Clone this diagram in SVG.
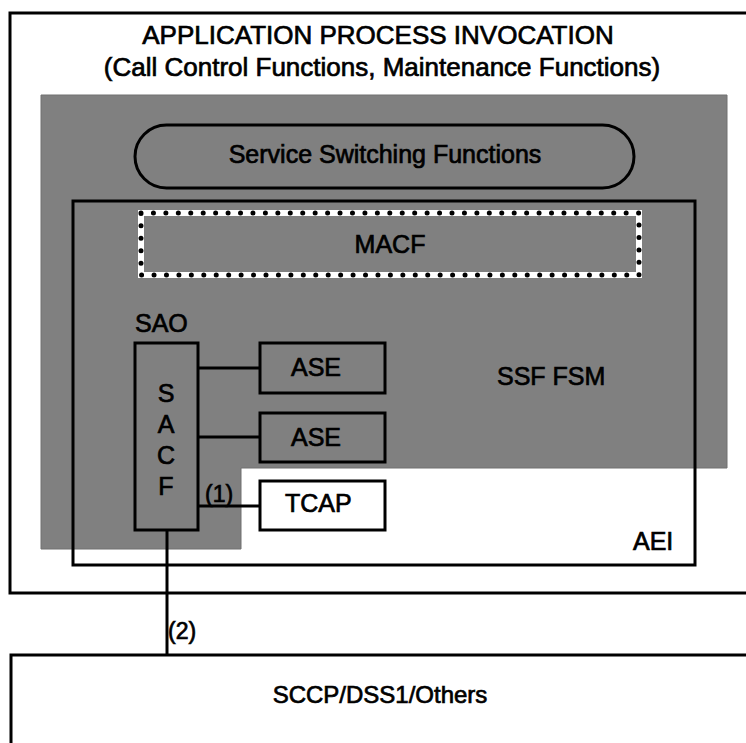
<svg xmlns="http://www.w3.org/2000/svg" width="746" height="743" viewBox="0 0 746 743">
  <style>
    .t { font-family: "Liberation Sans", Arial, sans-serif; font-size: 25px; fill: #000; stroke: #000; stroke-width: 0.7; }
    .title { font-size: 26px; }
    .mid { text-anchor: middle; }
    .box { fill: none; stroke: #000; stroke-width: 3; }
    .wbox { fill: #fff; stroke: #000; stroke-width: 3; }
    .line { fill: none; stroke: #000; stroke-width: 3; }
  </style>

  <rect width="746" height="743" fill="#fff"/>

  <!-- application process invocation frame -->
  <g id="api">
    <rect class="box" x="10" y="13" width="800" height="580"/>
    <text class="t title mid" x="378" y="44">APPLICATION PROCESS INVOCATION</text>
    <text class="t title mid" x="382" y="76">(Call Control Functions, Maintenance Functions)</text>
  </g>

  <!-- SSF FSM shaded area -->
  <g id="ssf-fsm">
    <path d="M41 95 H727 V468 H241 V549 H41 Z" fill="#808080" stroke="#707070" stroke-width="1"/>
    <text class="t" x="497" y="385">SSF FSM</text>
  </g>

  <g id="ssf">
    <rect class="box" x="135" y="125" width="499" height="63" rx="31.5" ry="31.5"/>
    <text class="t mid" x="385" y="163">Service Switching Functions</text>
  </g>

  <g id="aei">
    <rect class="box" x="73" y="201" width="622" height="364"/>
    <text class="t" x="633" y="550">AEI</text>
  </g>

  <g id="macf">
    <rect x="141" y="213" width="498" height="62" fill="none" stroke="#fff" stroke-width="6"/>
    <rect x="141" y="213" width="498" height="62" fill="none" stroke="#000" stroke-width="5" stroke-linecap="round" stroke-dasharray="0 12.44"/>
    <text class="t mid" x="390" y="253">MACF</text>
  </g>

  <g id="sacf">
    <text class="t" x="135" y="332">SAO</text>
    <rect class="box" x="135" y="343" width="63" height="187"/>
    <text class="t mid" x="166" y="402">S</text>
    <text class="t mid" x="166" y="433">A</text>
    <text class="t mid" x="166" y="464">C</text>
    <text class="t mid" x="166" y="495">F</text>
  </g>

  <g id="ase1">
    <rect class="box" x="260" y="343" width="125" height="50"/>
    <text class="t" x="291" y="376">ASE</text>
  </g>

  <g id="ase2">
    <rect class="box" x="260" y="413" width="125" height="49"/>
    <text class="t" x="291" y="446">ASE</text>
  </g>

  <g id="tcap">
    <rect class="wbox" x="260" y="481" width="125" height="49"/>
    <text class="t" x="285" y="512">TCAP</text>
  </g>

  <g id="sccp">
    <path class="line" d="M760 655 H11 V760"/>
    <text class="t mid" x="380" y="703" style="font-size:24px">SCCP/DSS1/Others</text>
  </g>

  <!-- connectors -->
  <g id="connectors">
    <path class="line" d="M198 368 H260"/>
    <path class="line" d="M198 437 H260"/>
    <path class="line" d="M198 506 H260"/>
    <path class="line" d="M167 530 V655"/>
    <text class="t" x="205" y="502" style="font-size:23px">(1)</text>
    <text class="t" x="168" y="639" style="font-size:23px">(2)</text>
  </g>
</svg>
